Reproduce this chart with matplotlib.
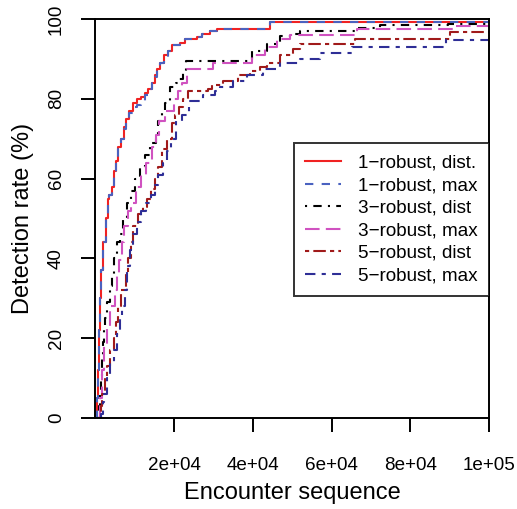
import matplotlib
matplotlib.use("Agg")
import matplotlib.pyplot as plt

plt.rcParams["font.family"] = ["Liberation Sans", "DejaVu Sans"]

# step curves: encounter index where detection rate changes, and the rate (%)
r1_dist_x = [254, 508, 635, 889, 1144, 1398, 1906, 2668, 3177, 3431, 4193, 4701,
             5209, 5718, 6480, 7243, 7751, 8513, 9530, 10546, 11563, 12579,
             13341, 14358, 15120, 15628, 16391, 17407, 18424, 19440, 21474,
             22744, 25794, 27064, 29097, 30876, 44346]
r1_dist_y = [0, 5, 12, 22, 30, 37, 44, 50, 55, 56, 58, 62, 64.5, 68, 70, 73, 75,
             77, 79, 80, 80.5, 81.5, 82.5, 84, 86, 87.5, 89, 91, 92, 93.5, 94,
             95, 95.5, 96.2, 97, 97.5, 99.2]

r1_max_x = [254, 508, 635, 889, 1144, 1398, 1906, 2668, 3177, 3431, 4193, 4701,
            5209, 5718, 6480, 7243, 7751, 8513, 9530, 10546, 11563, 12579,
            13341, 14358, 15120, 15628, 16391, 17407, 18424, 19440, 21474,
            22744, 25794, 27064, 29097, 30876, 44346]
r1_max_y = [0, 5, 12, 22, 30, 37, 44, 50, 54.5, 56, 57.5, 61.5, 64, 67.5, 70,
            72.5, 74.5, 76.5, 78, 78.5, 79.5, 81, 82.5, 84, 85.5, 87.5, 89, 90.5,
            92, 93.5, 94, 95, 95.5, 96.2, 97, 97.5, 99.2]

r3_dist_x = [635, 889, 1144, 1398, 1652, 1906, 2160, 2414, 2922, 3685, 4193, 4701,
             5464, 6226, 6989, 8005, 9022, 10038, 11309, 12579, 13850, 15374,
             15882, 16899, 17661, 18933, 20458, 21220, 22236, 22998, 39771,
             43583, 46887, 50190, 51970, 66455, 72300, 89581]
r3_dist_y = [0, 3, 6, 10, 15, 19, 22, 25, 29, 33, 36, 40, 44, 46, 50, 54, 57, 60,
             63, 66, 69, 71, 74.5, 77, 79, 83, 84, 85, 87, 89.5, 92, 93.7, 95.7,
             96.3, 97, 97.7, 98.5, 98.8]

r3_max_x = [762, 1144, 1652, 2160, 2922, 3685, 4955, 5464, 5972, 6734, 7243, 8259,
            9022, 10292, 11563, 12833, 14358, 15374, 16137, 17661, 19949, 20966,
            21982, 23252, 29860, 39771, 43075, 46125, 49428, 66455, 91361]
r3_max_y = [0, 5, 12, 18, 23, 28, 32, 36, 39.5, 44, 48, 52, 54, 58, 61, 64, 68,
            71, 74.5, 77, 80, 82, 84, 87.5, 89, 91, 93, 95, 96, 97.5, 98.3]

r5_dist_x = [1017, 1398, 1652, 2414, 2922, 3685, 4701, 5209, 5718, 6480, 7751,
             8259, 9022, 9530, 10800, 12071, 13088, 14104, 15120, 15882, 16899,
             18170, 19440, 20203, 21220, 22236, 23506, 28590, 29605, 32401,
             36213, 39263, 41804, 43583, 46887, 50190, 51970, 65947, 90089]
r5_dist_y = [0, 3, 6, 10, 13, 17, 20, 24, 28, 32, 36, 40, 44, 48, 51, 53, 55,
             57.5, 60, 63, 67.5, 70, 74, 76, 78, 80, 82, 82.5, 83.5, 84.5, 86, 87,
             88, 89, 91, 92.5, 93.7, 95, 96.7]

r5_max_x = [1144, 1398, 1906, 2160, 2922, 3685, 4701, 5464, 6226, 6734, 7497, 8005,
            8767, 9530, 10546, 11563, 12833, 14104, 15120, 15882, 17153, 18170,
            19186, 20458, 21982, 23761, 27318, 30368, 31639, 34942, 38500,
            42566, 46887, 51970, 57053, 65184, 89073]
r5_max_y = [0, 1, 4, 6, 10, 14, 17, 21, 25, 28, 32, 38, 42, 46, 49, 52, 54, 56,
            58.5, 61, 64, 67, 70, 74.5, 76, 79.5, 81, 82, 83, 84.5, 86, 87.5, 89,
            90, 91.5, 93, 94.8]

x_ticks = [20000, 40000, 60000, 80000, 100000]
x_tick_labels = ["2e+04", "4e+04", "6e+04", "8e+04", "1e+05"]
y_ticks = [0, 20, 40, 60, 80, 100]

series = [
    ("1\u2212robust, dist.", r1_dist_x, r1_dist_y, "#f02222", None),
    ("1\u2212robust, max", r1_max_x, r1_max_y, "#4a62c0", (4, 4)),
    ("3\u2212robust, dist", r3_dist_x, r3_dist_y, "black", (1, 3, 4, 3)),
    ("3\u2212robust, max", r3_max_x, r3_max_y, "#d052c0", (7, 3)),
    ("5\u2212robust, dist", r5_dist_x, r5_dist_y, "#a01a1a", (2, 2, 6, 2)),
    ("5\u2212robust, max", r5_max_x, r5_max_y, "#2e2e96", (5, 3, 2, 3)),
]

fig = plt.figure(figsize=(5.17, 5.09), dpi=100)
ax = fig.add_axes([0.1847, 0.1788, 0.9458 - 0.1847, 0.9627 - 0.1788])

lw = 1.5
for label, xs, ys, col, dash in series:
    xx = list(xs) + [100000]
    yy = list(ys) + [ys[-1]]
    line, = ax.step(xx, yy, where="post", color=col, lw=lw, label=label)
    if dash is not None:
        line.set_dashes(dash)

ax.set_xlim(0, 100000)
ax.set_ylim(0, 100)
ax.set_xticks(x_ticks)
ax.set_xticklabels(x_tick_labels, fontsize=13.6)
ax.set_yticks(y_ticks)
ax.set_yticklabels([str(v) for v in y_ticks], fontsize=13.6, rotation=90,
                   va="center")
ax.tick_params(axis="x", length=10, width=1.4, pad=18)
ax.tick_params(axis="y", length=10, width=1.4, pad=12)
for s in ax.spines.values():
    s.set_linewidth(1.4)

ax.set_xlabel("Encounter sequence", fontsize=17, labelpad=6)
ax.set_ylabel("Detection rate (%)", fontsize=17, labelpad=10)

leg = ax.legend(loc="center right", bbox_to_anchor=(1.0, 0.4975),
                borderaxespad=0, fontsize=13.6, fancybox=False,
                handlelength=1.9, handletextpad=0.9, borderpad=0.6,
                labelspacing=0.28, frameon=True)
leg.get_frame().set_edgecolor("black")
leg.get_frame().set_linewidth(1.4)

fig.savefig("out.png", dpi=100)
